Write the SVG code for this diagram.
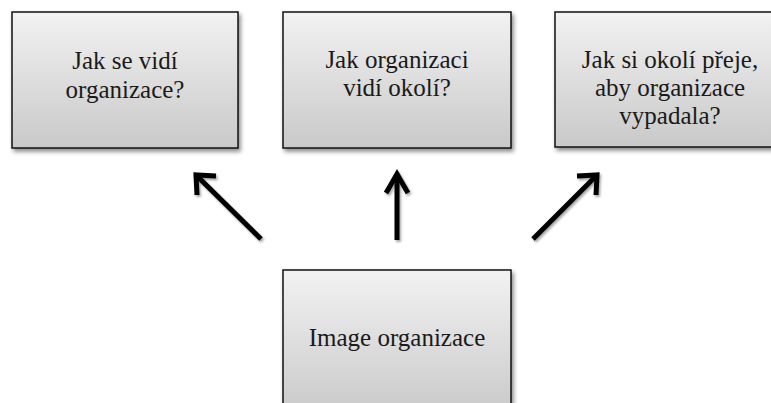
<svg xmlns="http://www.w3.org/2000/svg" width="771" height="403" viewBox="0 0 771 403">
<defs>
<linearGradient id="g" x1="0" y1="0" x2="0" y2="1">
<stop offset="0" stop-color="#f2f2f2"/>
<stop offset="1" stop-color="#c9c9c9"/>
</linearGradient>
<filter id="sh" x="-10%" y="-10%" width="130%" height="130%">
<feDropShadow dx="2" dy="3" stdDeviation="2" flood-color="#000" flood-opacity="0.45"/>
</filter>
<filter id="ash" filterUnits="userSpaceOnUse" x="0" y="0" width="771" height="403">
<feDropShadow dx="1.5" dy="2" stdDeviation="1.2" flood-color="#000" flood-opacity="0.35"/>
</filter>
</defs>
<style>
.box{fill:url(#g);stroke:#111;stroke-width:1.5;filter:url(#sh)}
.t{font-family:"Liberation Serif","Times New Roman",serif;font-size:25px;fill:#1a1a1a;text-anchor:middle}
.a{fill:none;stroke:#000;stroke-width:5;stroke-linecap:butt;stroke-linejoin:miter}
</style>
<rect width="771" height="403" fill="#fff"/>
<g id="node-self">
<rect class="box" x="12" y="12" width="226" height="136"/>
<text class="t" x="125" y="69">Jak se vidí</text>
<text class="t" x="125" y="98">organizace?</text>
</g>
<g id="node-others">
<rect class="box" x="283" y="12" width="228" height="136"/>
<text class="t" x="397" y="68">Jak organizaci</text>
<text class="t" x="397" y="96">vidí okolí?</text>
</g>
<g id="node-wish">
<rect class="box" x="555" y="12" width="228" height="135"/>
<text class="t" x="670" y="68">Jak si okolí přeje,</text>
<text class="t" x="670" y="96">aby organizace</text>
<text class="t" x="670" y="124">vypadala?</text>
</g>
<g id="node-image">
<rect class="box" x="283" y="270" width="228" height="145"/>
<text class="t" x="397" y="346">Image organizace</text>
</g>
<g id="connectors" filter="url(#ash)">
<path class="a" d="M261 239 L196 175"/>
<path class="a" d="M197 195 L196 175 L216 176"/>
<path class="a" d="M397 240 L397 174"/>
<path class="a" d="M386 193 L397 174 L408 193"/>
<path class="a" d="M533 239 L597 175"/>
<path class="a" d="M577 176 L597 175 L596 195"/>
</g>
</svg>
